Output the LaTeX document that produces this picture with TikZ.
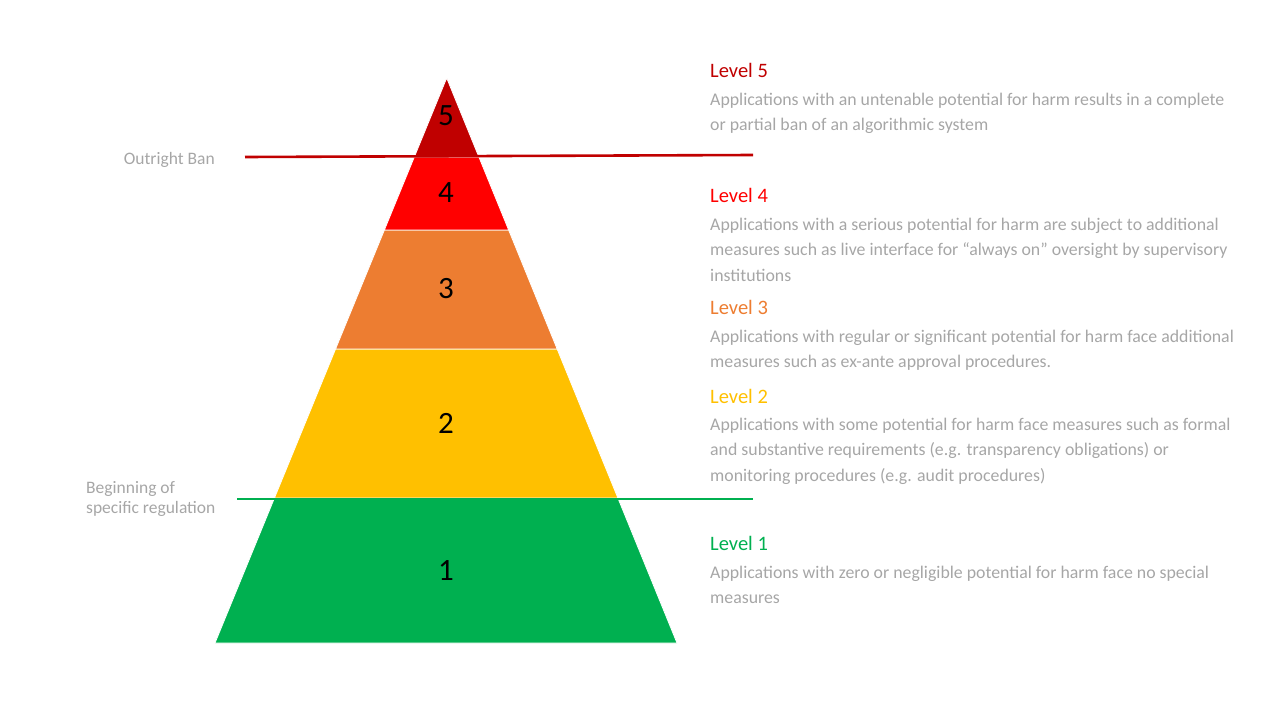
\documentclass[tikz,border=0pt]{standalone}
\usepackage{fontspec}
\setmainfont{Carlito}
\usetikzlibrary{calc}

\definecolor{lvfive}{HTML}{C00000}
\definecolor{lvfour}{HTML}{FF0000}
\definecolor{lvthree}{HTML}{ED7D31}
\definecolor{lvtwo}{HTML}{FFC000}
\definecolor{lvone}{HTML}{00B050}
\definecolor{txtgray}{HTML}{A6A6A6}

\tikzset{
  band/.style={draw=white, line width=0.8pt},
  levnum/.style={inner sep=0pt, font=\fontsize{31}{36}\selectfont},
  levtitle/.style={anchor=base west, inner sep=0pt, font=\fontsize{20.5}{24}\selectfont},
  levdesc/.style={anchor=base west, inner sep=0pt, align=left, text=txtgray,
    font=\fontsize{17.8}{25.5}\selectfont},
  sidelabel/.style={inner sep=0pt, align=left, text=txtgray,
    font=\fontsize{17.5}{20}\selectfont},
}

\begin{document}
\begin{tikzpicture}[x=1pt,y=-1pt]

% ---------- page (1280 x 720, y downwards) ----------
\useasboundingbox (0,0) rectangle (1280,720);

% ---------- pyramid corners ----------
% apex y=78, base y=643; band limits at y=157, 230, 349, 498
\coordinate (apex) at (446.7,78);
\coordinate (bl) at (215,643);
\coordinate (br) at (677,643);

\coordinate (l54) at ($(apex)!0.1398!(bl)$);
\coordinate (r54) at ($(apex)!0.1398!(br)$);
\coordinate (l43) at ($(apex)!0.2690!(bl)$);
\coordinate (r43) at ($(apex)!0.2690!(br)$);
\coordinate (l32) at ($(apex)!0.4796!(bl)$);
\coordinate (r32) at ($(apex)!0.4796!(br)$);
\coordinate (l21) at ($(apex)!0.7434!(bl)$);
\coordinate (r21) at ($(apex)!0.7434!(br)$);

% ---------- bands ----------
\fill[lvone, band] (l21) -- (r21) -- (br) -- (bl) -- cycle;
\fill[lvtwo, band] (l32) -- (r32) -- (r21) -- (l21) -- cycle;
\fill[lvthree, band] (l43) -- (r43) -- (r32) -- (l32) -- cycle;
\fill[lvfour, band] (l54) -- (r54) -- (r43) -- (l43) -- cycle;
\fill[lvfive, band] (apex) -- (r54) -- (l54) -- cycle;

% ---------- band numbers ----------
\node[levnum] (n5) at (446,116) {5};
\node[levnum] (n4) at (446,193) {4};
\node[levnum] (n3) at (446,289) {3};
\node[levnum] (n2) at (446,423) {2};
\node[levnum] (n1) at (446,571) {1};

% ---------- threshold lines ----------
\coordinate (banL) at (245,157);
\coordinate (banR) at (753,155);
\coordinate (regL) at (237,499);
\coordinate (regR) at (753,499);
\draw[lvfive, line width=2.6pt] (banL) -- (banR);
\draw[lvone, line width=2.4pt] (regL) -- (regR);

% ---------- side labels ----------
% (base of a multi-line node = its last line)
\node[sidelabel, anchor=base east] (ban) at (215,164) {Outright Ban};
\node[sidelabel, anchor=base west] (reg) at (86,513) {Beginning of\\specific regulation};

% ---------- level texts ----------
\node[levtitle, text=lvfive] (t5) at (710,77) {Level 5};
\node[levdesc] (d5) at (710,130.5) {Applications with an untenable potential for harm results in a complete\\or partial ban of an algorithmic system};

\node[levtitle, text=lvfour] (t4) at (710,202) {Level 4};
\node[levdesc] (d4) at (710,281) {Applications with a serious potential for harm are subject to additional\\measures such as live interface for “always on” oversight by supervisory\\institutions};

\node[levtitle, text=lvthree] (t3) at (710,314) {Level 3};
\node[levdesc] (d3) at (710,367.5) {Applications with regular or significant potential for harm face additional\\measures such as ex-ante approval procedures.};

\node[levtitle, text=lvtwo] (t2) at (710,403) {Level 2};
\node[levdesc] (d2) at (710,481) {Applications with some potential for harm face measures such as formal\\and substantive requirements (e.g. transparency obligations) or\\monitoring procedures (e.g. audit procedures)};

\node[levtitle, text=lvone] (t1) at (710,550) {Level 1};
\node[levdesc] (d1) at (710,603.5) {Applications with zero or negligible potential for harm face no special\\measures};

\end{tikzpicture}
\end{document}
